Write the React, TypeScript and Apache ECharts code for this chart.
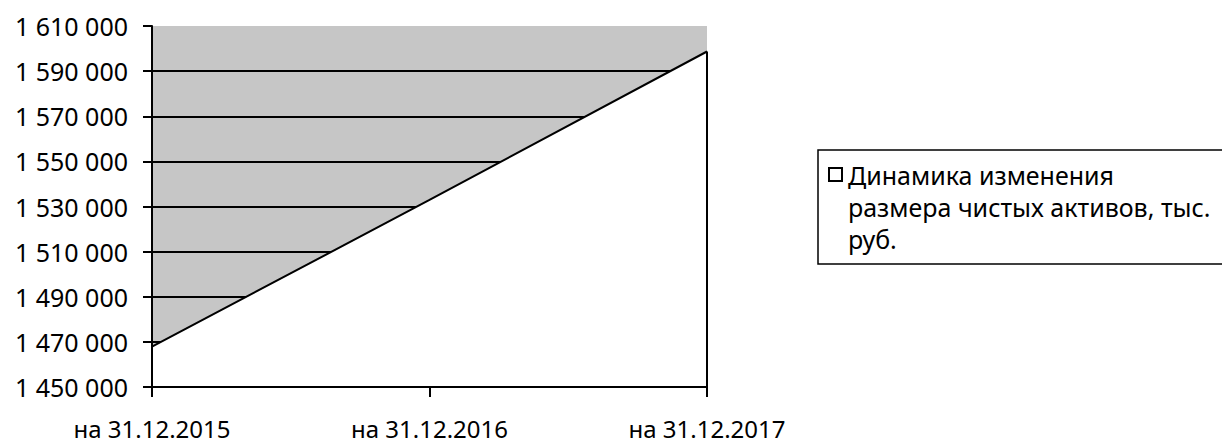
import React, { useEffect, useRef } from "react";
import * as echarts from "echarts";

const categories = ["на 31.12.2015", "на 31.12.2016", "на 31.12.2017"];
const netAssets = [1467900, 1532900, 1598700];
const seriesName = "Динамика изменения размера чистых активов, тыс. руб.";
const legendLines = ["Динамика изменения", "размера чистых активов, тыс.", "руб."];
const yMin = 1450000;
const yMax = 1610000;
const yStep = 20000;

const fmt = (v: number) =>
  String(Math.round(v)).replace(/\B(?=(\d{3})+(?!\d))/g, " ");

export default function App() {
  const ref = useRef<HTMLDivElement>(null);
  useEffect(() => {
    if (!ref.current) return;
    const chart = echarts.init(ref.current, undefined, { renderer: "svg" });
    const font = "Noto Sans";
    const option: any = {
      animation: false,
      backgroundColor: "#ffffff",
      textStyle: { fontFamily: font },
      grid: {
        left: 152,
        top: 26,
        width: 555,
        height: 361,
        show: true,
        backgroundColor: "#c6c6c6",
        borderWidth: 0,
      },
      legend: {
        show: true,
        left: 818,
        top: 150,
        orient: "vertical",
        padding: [8, 60, 8, 9],
        borderColor: "#000",
        borderWidth: 1.5,
        backgroundColor: "#fff",
        itemWidth: 15,
        itemHeight: 96,
        itemGap: 0,
        icon: "path://M0 0M15 96M1 9L14 9L14 22L1 22Z",
        symbolKeepAspect: false,
        itemStyle: { color: "#fff", borderColor: "#000", borderWidth: 2 },
        textStyle: { color: "#000", fontSize: 25, lineHeight: 32, fontFamily: font },
        formatter: () => legendLines.join("\n"),
        selectedMode: false,
        data: [seriesName],
      },
      xAxis: {
        type: "category",
        data: categories,
        boundaryGap: false,
        z: 5,
        axisLine: { onZero: false, lineStyle: { color: "#000", width: 2 } },
        axisTick: {
          show: true,
          length: 10,
          alignWithLabel: true,
          interval: 0,
          lineStyle: { color: "#000", width: 2 },
        },
        axisLabel: {
          color: "#000",
          fontSize: 24,
          lineHeight: 22,
          margin: 30,
          fontFamily: font,
          interval: 0,
        },
        splitLine: { show: false },
      },
      yAxis: [
        {
          type: "value",
          min: yMin,
          max: yMax,
          interval: yStep,
          position: "left",
          axisLine: { show: false },
          axisTick: { show: false },
          axisLabel: { show: false },
          splitLine: {
            show: true,
            showMinLine: false,
            showMaxLine: false,
            lineStyle: { color: "#000", width: 2 },
          },
        },
        {
          type: "value",
          min: yMin,
          max: yMax,
          interval: yStep,
          position: "left",
          z: 5,
          axisLine: { show: true, lineStyle: { color: "#000", width: 2 } },
          axisTick: { show: true, inside: false, length: 9, lineStyle: { color: "#000", width: 2 } },
          axisLabel: { color: "#000", fontSize: 25, margin: 24, fontFamily: font, formatter: fmt },
          splitLine: { show: false },
        },
      ],
      series: [
        {
          type: "line",
          name: seriesName,
          data: netAssets,
          yAxisIndex: 0,
          symbol: "none",
          lineStyle: { color: "#000", width: 2 },
          itemStyle: { color: "#fff" },
          areaStyle: { color: "#fff", opacity: 1, origin: "start" },
          markLine: {
            silent: true,
            symbol: ["none", "none"],
            label: { show: false },
            emphasis: { disabled: true },
            lineStyle: { color: "#000", width: 2, type: "solid" },
            data: [
              [
                { coord: [categories.length - 1, netAssets[netAssets.length - 1]] },
                { coord: [categories.length - 1, yMin] },
              ],
            ],
          },
        },
      ],
    };
    chart.setOption(option);
    return () => chart.dispose();
  }, []);
  return (
    <div
      ref={ref}
      style={{ position: "fixed", left: 0, top: 0, width: 1222, height: 446 }}
    />
  );
}
